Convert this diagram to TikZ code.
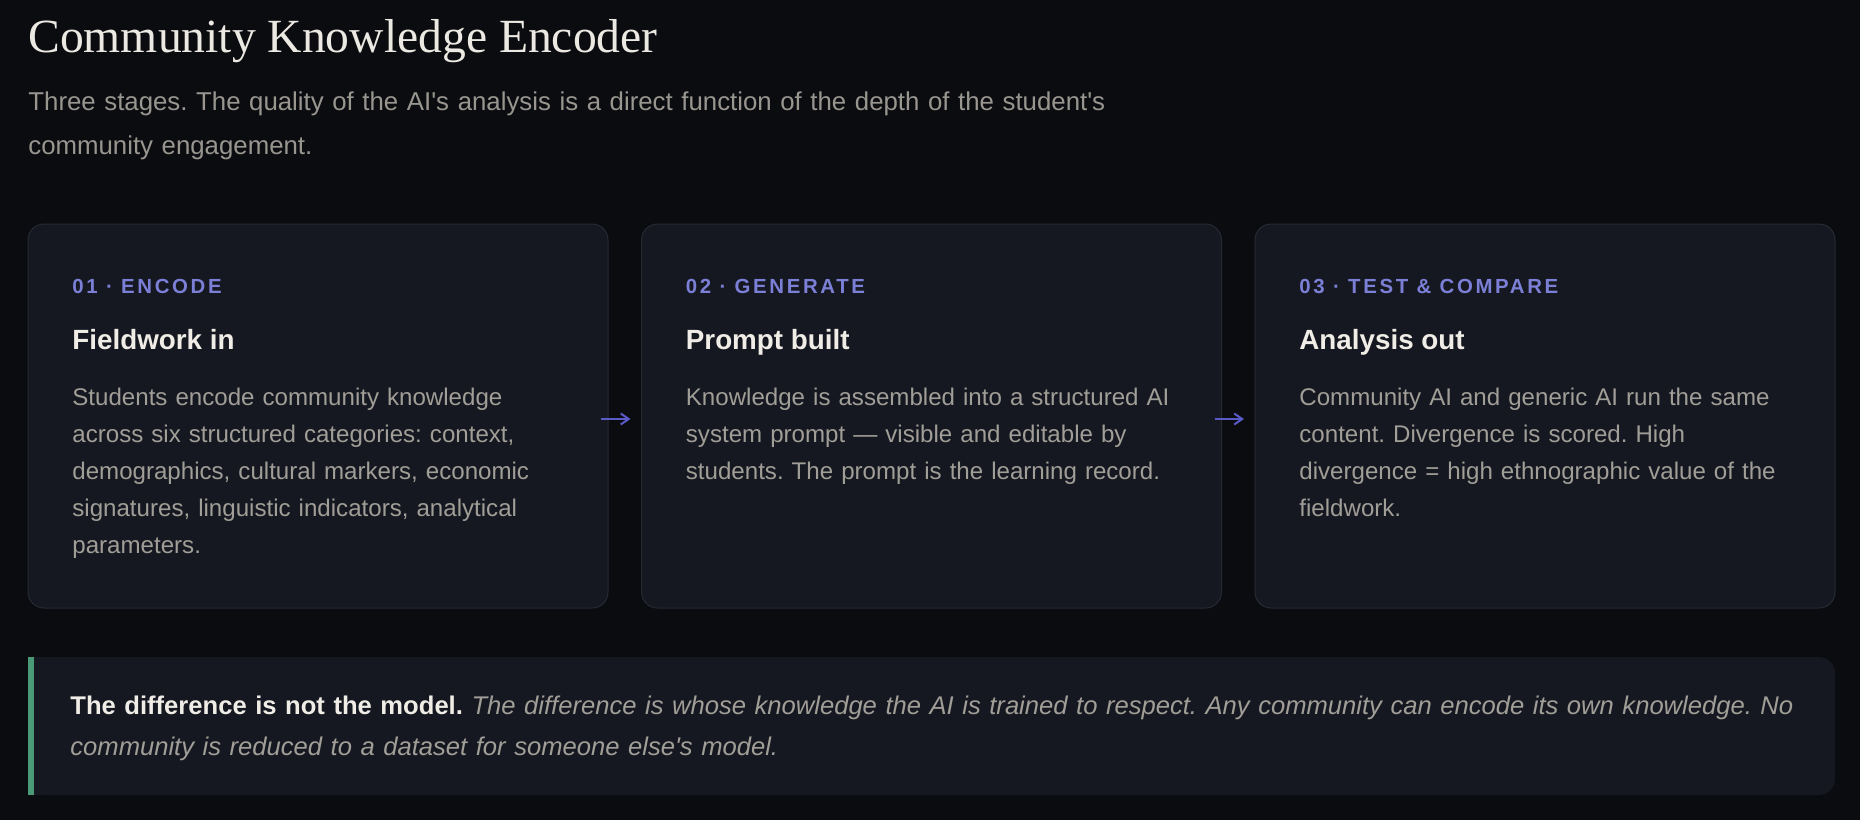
\documentclass[tikz,border=0pt]{standalone}
\usepackage{fontspec}
\setmainfont{Liberation Sans}
\newfontfamily\titlefont{Liberation Serif}
\usepackage{tikz}
\usetikzlibrary{positioning,arrows.meta}
\definecolor{pagebg}{HTML}{0B0C10}
\definecolor{cardfill}{HTML}{151821}
\definecolor{cardline}{HTML}{262A33}
\definecolor{tagblue}{HTML}{7B7FD6}
\definecolor{headwhite}{HTML}{F0ECE6}
\definecolor{bodygrey}{HTML}{A19E97}
\definecolor{arrowblue}{HTML}{5A5BC7}
\definecolor{bargreen}{HTML}{4A9A78}
\frenchspacing
\tikzstyle{stagebox} = [rectangle, rounded corners=8pt, minimum width=290pt, minimum
height=192pt, draw=cardline, line width=0.5pt, fill=cardfill, inner sep=0pt, outer sep=0pt]
\tikzstyle{stagetag} = [anchor=base west, inner sep=0pt, text=tagblue,
font=\fontsize{10.2}{12}\selectfont\bfseries\addfontfeatures{LetterSpace=13}]
\tikzstyle{stagehead} = [anchor=base west, inner sep=0pt, text=headwhite,
font=\fontsize{13.9}{16}\selectfont\bfseries]
\tikzstyle{stagebody} = [anchor=base west, inner sep=0pt, text width=250pt, align=left,
text=bodygrey, font=\fontsize{12.05}{18.5}\selectfont]
\tikzstyle{notebox} = [rectangle, rounded corners=8pt, minimum width=903.5pt, minimum
height=69pt, fill=cardfill, inner sep=0pt, outer sep=0pt]
\tikzstyle{notetext} = [anchor=base west, inner sep=0pt, text width=895pt, align=left,
text=bodygrey, font=\fontsize{12.8}{20.5}\selectfont]
\tikzstyle{arrow} = [line width=1pt, draw=arrowblue, -{Straight Barb[length=4pt,width=5.5pt]}]
\begin{document}
\begin{tikzpicture}[x=0.5pt, y=-0.5pt]
        \useasboundingbox (0,0) rectangle (1860,820);
        \fill [pagebg] (0,0) rectangle (1860,820);
        %
        \node (title) [anchor=base west, inner sep=0pt, text=headwhite!96!gray,
        font=\titlefont\fontsize{23.8}{28}\selectfont] at (28,52.7) {Community Knowledge Encoder};
        \node (subtitle) [anchor=base west, inner sep=0pt, text width=600pt, align=left,
        text=bodygrey!95!black, font=\fontsize{12.9}{22}\selectfont] at (28,110)
        {Three stages. The quality of the AI\textquotesingle s analysis is a direct function of the depth of the student\textquotesingle s\\
        community engagement.};
        %
        \node (encode) [stagebox, anchor=north west] at (28,224) {};
        \node (generate) [stagebox, right=16.75pt of encode] {};
        \node (compare) [stagebox, right=16.75pt of generate] {};
        %
        \node (encodetag) [stagetag] at ([shift={(44,69)}]encode.north west) {01 · ENCODE};
        \node (encodehead) [stagehead] at ([shift={(44,125)}]encode.north west) {Fieldwork in};
        \node (encodebody) [stagebody] at ([shift={(44,181.5)}]encode.north west)
        {Students encode community knowledge\\
        across six structured categories: context,\\
        demographics, cultural markers, economic\\
        signatures, linguistic indicators, analytical\\
        parameters.};
        %
        \node (generatetag) [stagetag] at ([shift={(44,69)}]generate.north west) {02 · GENERATE};
        \node (generatehead) [stagehead] at ([shift={(44,125)}]generate.north west) {Prompt built};
        \node (generatebody) [stagebody] at ([shift={(44,181.5)}]generate.north west)
        {Knowledge is assembled into a structured AI\\
        system prompt — visible and editable by\\
        students. The prompt is the learning record.};
        %
        \node (comparetag) [stagetag] at ([shift={(44,69)}]compare.north west) {03 · TEST \& COMPARE};
        \node (comparehead) [stagehead] at ([shift={(44,125)}]compare.north west) {Analysis out};
        \node (comparebody) [stagebody] at ([shift={(44,181.5)}]compare.north west)
        {Community AI and generic AI run the same\\
        content. Divergence is scored. High\\
        divergence = high ethnographic value of the\\
        fieldwork.};
        %
        \draw [arrow] ([shift={(-7,3)}]encode.east) -- ([shift={(-11,3)}]generate.west);
        \draw [arrow] ([shift={(-7,3)}]generate.east) -- ([shift={(-11,3)}]compare.west);
        %
        \node (note) [notebox, anchor=north west] at (28,657) {};
        \fill [cardfill] (note.north west) rectangle ([xshift=20pt]note.south west);
        \fill [bargreen] (note.north west) rectangle ([xshift=3pt]note.south west);
        \node (notetext) [notetext] at ([shift={(42,57)}]note.north west)
        {\textcolor{headwhite}{\bfseries The difference is not the model.} \itshape The difference is whose
        knowledge the AI is trained to respect. Any community can encode its own knowledge. No\\
        community is reduced to a dataset for someone else\textquotesingle s model.};
\end{tikzpicture}
\end{document}
